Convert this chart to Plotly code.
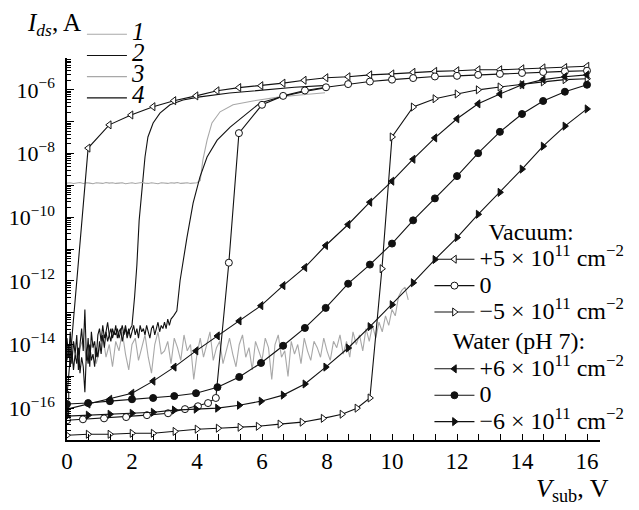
import numpy as np
import plotly.graph_objects as go

# ---------------- data: log10 of I_ds (A) ----------------
# Vacuum, +5e11 cm^-2 (open left triangles)
v_vac_pos = [0, 0.65, 1.3, 1.97, 2.65, 3.29, 3.97, 4.62, 5.29, 5.97, 6.65, 7.3, 7.97,
             8.65, 9.32, 10.0, 10.65, 11.32, 12.0, 12.65, 13.32, 14.0, 14.65, 15.32, 16.0]
i_vac_pos = [-15.6, -7.83, -7.10, -6.79, -6.53, -6.34, -6.19, -6.03, -5.93, -5.87, -5.79, -5.70, -5.62,
             -5.59, -5.53, -5.50, -5.45, -5.42, -5.40, -5.37, -5.37, -5.34, -5.31, -5.30, -5.26]
# Vacuum, 0 (open circles)
v_vac_0 = [0, 0.49, 1.14, 1.82, 2.46, 3.11, 3.63, 4.03, 4.34, 4.58, 4.98, 5.29, 6.0, 6.65, 7.32, 7.97,
           8.65, 9.32, 10.0, 10.65, 11.32, 12.0, 12.65, 13.32, 14.0, 14.65, 15.32, 16.0]
i_vac_0 = [-16.38, -16.35, -16.32, -16.28, -16.22, -16.16, -16.03, -15.94, -15.84, -15.68, -11.43, -7.36,
           -6.47, -6.19, -6.02, -5.92, -5.82, -5.74, -5.68, -5.63, -5.58, -5.56, -5.53, -5.50, -5.47,
           -5.44, -5.42, -5.40]
# Vacuum, -5e11 cm^-2 (open right triangles)
v_vac_neg = [0, 0.65, 1.32, 2.0, 2.65, 3.32, 4.0, 4.65, 5.32, 5.88, 6.55, 7.23, 7.88, 8.46, 8.92, 9.32,
             9.69, 10.0, 10.65, 11.32, 12.0, 12.65, 13.32, 14.0, 14.65, 15.32, 16.0]
i_vac_neg = [-16.85, -16.82, -16.82, -16.79, -16.79, -16.73, -16.66, -16.63, -16.60, -16.57, -16.50,
             -16.44, -16.32, -16.19, -16.0, -15.68, -11.62, -7.48, -6.54, -6.28, -6.13, -6.0, -5.91,
             -5.84, -5.75, -5.68, -5.65]
# Water (pH 7): +6e11, 0, -6e11 cm^-2 (filled markers)
v_water = [0, 0.65, 1.32, 2.0, 2.65, 3.3, 3.97, 4.63, 5.3, 5.97, 6.65, 7.32, 7.96,
           8.65, 9.32, 10.0, 10.65, 11.32, 12.0, 12.65, 13.32, 14.0, 14.65, 15.32, 16.0]
i_water_pos = [-16.03, -15.87, -15.72, -15.53, -15.15, -14.71, -14.20, -13.73, -13.26, -12.78, -12.15,
               -11.58, -10.89, -10.23, -9.53, -8.87, -8.18, -7.51, -6.91, -6.44, -6.13, -5.84, -5.68,
               -5.59, -5.53]
i_water_0 = [-15.87, -15.84, -15.78, -15.72, -15.68, -15.62, -15.53, -15.34, -15.02, -14.58, -14.04,
             -13.48, -12.85, -12.09, -11.49, -10.83, -10.10, -9.41, -8.71, -7.99, -7.32, -6.76, -6.35,
             -6.06, -5.84]
i_water_neg = [-16.25, -16.22, -16.19, -16.16, -16.13, -16.06, -16.03, -16.0, -15.91, -15.78, -15.59,
               -15.24, -14.71, -14.11, -13.44, -12.75, -12.06, -11.33, -10.64, -9.91, -9.22, -8.49,
               -7.77, -7.14, -6.60]

# Curves 1-4 (no markers)
step1 = 0.1
c1_noise = [-14.0, -14.3, -13.9, -14.4, -14.1, -13.8, -14.5, -14.2, -13.9, -14.6,
            -14.1, -13.7, -14.4, -14.0, -14.7, -13.9, -14.2, -13.6, -14.3, -14.8,
            -14.0, -13.8, -14.5, -14.1, -13.7, -14.4, -14.9, -14.0, -13.6, -14.3,
            -14.2, -13.9, -14.6, -13.8, -14.1, -14.5, -13.7, -14.2, -14.0, -15.1,
            -14.3, -13.8, -14.4, -14.0, -13.6, -14.5, -14.1, -13.9, -14.6, -14.2,
            -13.8, -14.3, -14.7, -14.0, -13.7, -14.4, -14.1, -14.8, -13.9, -14.2,
            -14.5, -13.8, -14.1, -15.1, -14.0, -13.7, -14.4, -14.2, -15.0, -13.9,
            -14.3, -14.0, -14.6, -13.8, -14.2, -14.5, -13.9, -14.1, -14.4, -13.8,
            -14.2, -14.5, -13.9, -14.1, -13.7, -14.3, -13.9, -14.4, -13.6, -14.0,
            -13.7, -14.2, -13.5, -13.9, -13.4, -13.8, -13.3, -13.6, -13.1, -13.4,
            -12.9, -13.1, -12.5, -12.3, -12.2, -12.6]

step2 = 0.05
c2_noise = [-14.5, -14.0, -14.7, -14.2, -14.8, -14.3, -14.6, -14.1, -14.9, -14.4,
            -14.7, -15.5, -14.2, -14.6, -14.0, -14.5, -14.3, -14.7, -14.1, -14.4,
            -13.9, -14.3, -13.7, -14.1, -13.6, -13.9, -13.7, -13.5, -13.8, -13.6,
            -13.7, -13.5, -13.8, -13.6, -13.4, -13.7, -13.5, -13.8, -13.6, -13.5,
            -13.4]
c2_rise_v = [2.08, 2.15, 2.22, 2.31, 2.40, 2.49, 2.65, 2.86, 3.17, 3.57, 4.09, 5.0, 6.0, 7.0, 8.0]
c2_rise_i = [-12.5, -11.5, -10.1, -9.15, -8.11, -7.48, -7.04, -6.73, -6.47, -6.32, -6.22, -6.10,
             -6.0, -5.92, -5.86]

c3_flat = [-8.93, -8.92, -8.94, -8.93, -8.91, -8.94, -8.92, -8.93, -8.95, -8.92, -8.93, -8.94, -8.91,
           -8.93, -8.92, -8.94, -8.93, -8.92, -8.95, -8.93, -8.92, -8.94, -8.93, -8.91, -8.93, -8.94,
           -8.92, -8.93, -8.95, -8.92, -8.93, -8.94, -8.92, -8.93, -8.91, -8.94, -8.93, -8.92, -8.94,
           -8.93, -8.92]
c3_rise_v = [4.1, 4.18, 4.31, 4.46, 4.71, 5.11, 5.72, 6.55, 7.17, 7.94]
c3_rise_i = [-8.85, -8.21, -7.58, -7.04, -6.69, -6.47, -6.35, -6.22, -6.16, -6.09]

c4_noise = [-13.8, -14.4, -13.6, -14.6, -13.9, -14.3, -13.7, -14.8, -14.0, -13.5,
            -14.2, -12.9, -14.5, -13.8, -14.7, -13.6, -14.1, -13.9, -14.4, -13.7,
            -13.5, -13.9, -13.4, -13.8, -13.6, -13.3, -13.7, -13.9, -13.5, -13.7,
            -13.4, -13.8, -13.6, -13.5, -13.9, -13.6, -13.4, -13.7, -13.5, -13.8,
            -13.6, -13.4, -13.7, -13.5, -13.8, -13.4, -13.6, -13.5, -13.7, -13.4,
            -13.6, -13.8, -13.5, -13.4, -13.7, -13.5, -13.3, -13.6, -13.4, -13.5,
            -13.3, -13.5, -13.2, -13.4, -13.2]
c4_rise_v = [3.28, 3.38, 3.48, 3.57, 3.69, 3.88, 4.09, 4.31, 4.62, 5.02, 5.54, 5.94, 6.65, 7.32, 7.97]
c4_rise_i = [-13.1, -12.94, -11.99, -11.36, -10.64, -9.56, -8.74, -8.11, -7.58, -7.17, -6.73, -6.41,
             -6.2, -6.05, -5.93]

x_ticks = [0, 2, 4, 6, 8, 10, 12, 14, 16]
y_decades = list(range(-5, -18, -1))
y_labels = ["", "10<sup>−6</sup>", "", "10<sup>−8</sup>", "", "10<sup>−10</sup>", "",
            "10<sup>−12</sup>", "", "10<sup>−14</sup>", "", "10<sup>−16</sup>", ""]

GRAY = "#a8a8a8"
BLACK = "#111111"
FONT = "Liberation Serif"


def amps(lst):
    return np.power(10.0, np.array(lst, dtype=float))


def grid(n, step):
    return np.round(np.arange(n) * step, 3)


c1_v = grid(len(c1_noise), step1)
c2_v = np.concatenate([grid(len(c2_noise), step2), c2_rise_v])
c3_v = np.concatenate([grid(len(c3_flat), step1), c3_rise_v])
c4_v = np.concatenate([grid(len(c4_noise), step2), c4_rise_v])

fig = go.Figure()

curves = [
    ("1", c1_v, c1_noise, GRAY),
    ("2", c2_v, c2_noise + c2_rise_i, BLACK),
    ("3", c3_v, c3_flat + c3_rise_i, GRAY),
    ("4", c4_v, c4_noise + c4_rise_i, BLACK),
]
for name, xv, yv, col in curves:
    fig.add_trace(go.Scatter(
        x=xv, y=amps(yv), mode="lines", line=dict(color=col, width=1.1),
        name='<span style="font-size:25px"><i>%s</i></span>' % name,
        legend="legend2", showlegend=True))

sup = '<span style="font-size:24px">%s</span>'
nb = "\u00a0"
series = [
    (v_vac_pos, i_vac_pos, "triangle-left", "white", sup % "+5 × 10<sup>11</sup> cm<sup>−2</sup>", "vac",
     sup % (nb * 9 + "Vacuum:")),
    (v_vac_0, i_vac_0, "circle", "white", sup % "0", "vac", None),
    (v_vac_neg, i_vac_neg, "triangle-right", "white", sup % "−5 × 10<sup>11</sup> cm<sup>−2</sup>", "vac", None),
    (v_water, i_water_pos, "triangle-left", BLACK, sup % "+6 × 10<sup>11</sup> cm<sup>−2</sup>", "wat",
     sup % (nb * 3 + "Water (pH 7):")),
    (v_water, i_water_0, "circle", BLACK, sup % "0", "wat", None),
    (v_water, i_water_neg, "triangle-right", BLACK, sup % "−6 × 10<sup>11</sup> cm<sup>−2</sup>", "wat", None),
]
for xv, yv, sym, fill, name, grp, title in series:
    kw = {}
    if title:
        kw["legendgrouptitle"] = dict(text=title, font=dict(size=18, family=FONT))
    fig.add_trace(go.Scatter(
        x=xv, y=amps(yv), mode="lines+markers", name=name, legendgroup=grp,
        line=dict(color=BLACK, width=1.1),
        marker=dict(symbol=sym, size=7, color=fill, line=dict(color=BLACK, width=1)),
        **kw))

# page body adds an 8 px offset, so the figure is 8 px smaller and margins compensate
fig.update_layout(
    width=631, height=502,
    margin=dict(l=59, r=39, t=50, b=70, autoexpand=False),
    paper_bgcolor="white", plot_bgcolor="white",
    font=dict(family=FONT, size=22, color="black"),
    legend=dict(x=0.68, y=0.59, xanchor="left", yanchor="top", bgcolor="rgba(0,0,0,0)",
                font=dict(size=18, family=FONT), itemwidth=40, tracegroupgap=4,
                traceorder="grouped", itemclick=False),
    legend2=dict(x=0.028, y=1.103, xanchor="left", yanchor="top", bgcolor="rgba(0,0,0,0)",
                 font=dict(size=14, family=FONT), itemwidth=40, tracegroupgap=0),
    xaxis=dict(range=[0, 16.4], showline=True, linecolor="black", linewidth=1.5,
               showgrid=False, zeroline=False, ticks="inside", ticklen=6, tickwidth=1,
               tickcolor="black", tickmode="array", tickvals=x_ticks,
               ticktext=[str(t) for t in x_ticks], tickfont=dict(size=23, family=FONT),
               ticklabelstandoff=0,
               minor=dict(tickmode="linear", tick0=0, dtick=2 / 3, ticks="inside", ticklen=6,
                          tickwidth=1, tickcolor="black", showgrid=False)),
    yaxis=dict(type="log", range=[-17, -5], showline=True, linecolor="black", linewidth=1.5,
               showgrid=False, zeroline=False, ticks="inside", ticklen=7, tickwidth=1,
               tickcolor="black", tickmode="array",
               tickvals=[10.0 ** d for d in y_decades], ticktext=y_labels,
               tickfont=dict(size=22, family=FONT), ticklabelstandoff=6,
               minor=dict(ticks="inside", ticklen=4, tickwidth=0.8, tickcolor="black",
                          dtick="D1", showgrid=False)),
    annotations=[
        dict(text="<i>I</i><sub><i>ds</i></sub>, A", xref="paper", yref="paper",
             x=-0.078, y=1.088, xanchor="left", yanchor="middle", showarrow=False,
             font=dict(size=25, family=FONT)),
        dict(text="<i>V</i><sub>sub</sub>, V", xref="paper", yref="paper",
             x=1.02, y=-0.13, xanchor="right", yanchor="middle", showarrow=False,
             font=dict(size=26, family=FONT)),
    ],
)

fig.write_html("out.html")
